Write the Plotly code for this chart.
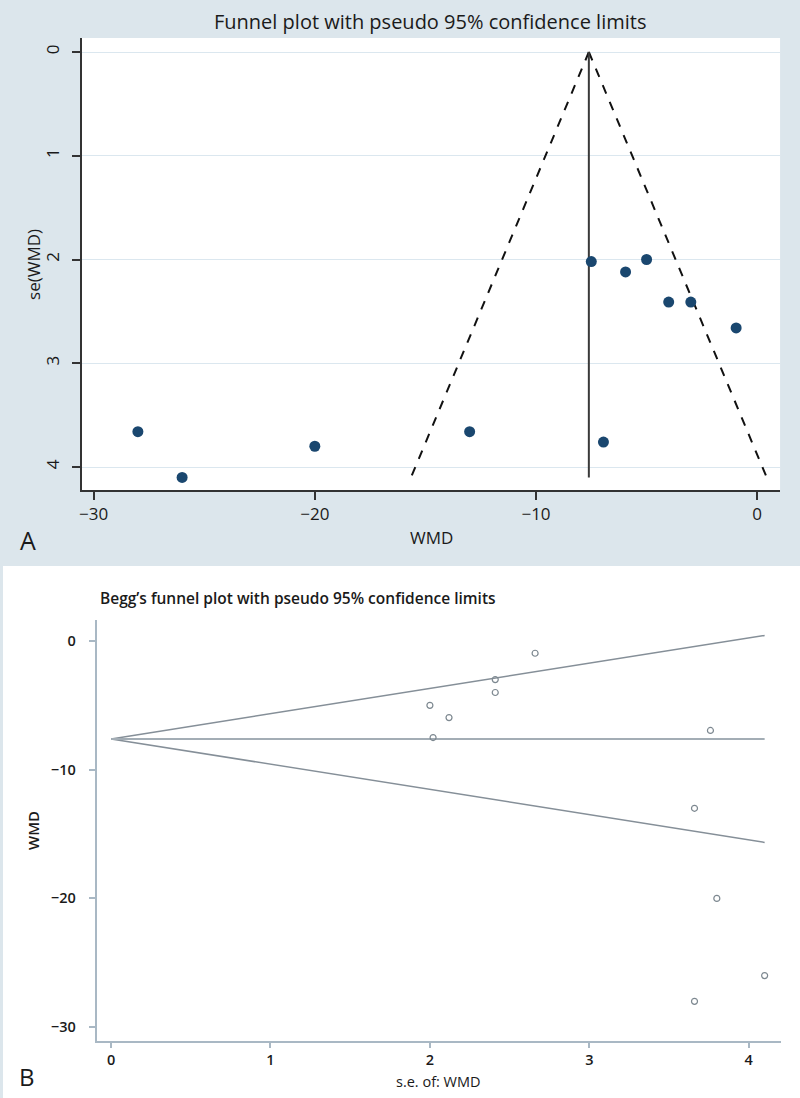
import plotly.graph_objects as go

# ---- data ----
wmd = [-28, -26, -20, -13, -6.95, -7.5, -5.95, -5.0, -4.0, -3.0, -0.95]
se = [3.66, 4.1, 3.8, 3.66, 3.76, 2.02, 2.12, 2.0, 2.41, 2.41, 2.66]

pooled_wmd = -7.61
funnel_se = [0, 4.1]
funnel_lower = [-7.61, -15.65]
funnel_upper = [-7.61, 0.43]

a_xticks = [-30, -20, -10, 0]
a_yticks = [0, 1, 2, 3, 4]
b_xticks = [0, 1, 2, 3, 4]
b_yticks = [0, -10, -20, -30]

W, H = 800, 1098
FONT = "Open Sans"
NAVY = "#1a476f"
BG_A = "#dce6ec"
TXT = "#1a1a1a"


def px_x(p):
    return p / W


def px_y(p):
    return 1 - p / H


fig = go.Figure()

# ---------- Panel A ----------
for xs in (funnel_lower, funnel_upper):
    fig.add_trace(go.Scatter(
        x=xs, y=funnel_se, mode="lines",
        line=dict(color="#111111", width=2, dash="dash"), xaxis="x", yaxis="y",
        showlegend=False, hoverinfo="skip"))
fig.add_trace(go.Scatter(
    x=[pooled_wmd, pooled_wmd], y=funnel_se, mode="lines",
    line=dict(color="#3a3a3a", width=2), xaxis="x", yaxis="y",
    showlegend=False, hoverinfo="skip"))
fig.add_trace(go.Scatter(
    x=wmd, y=se, mode="markers",
    marker=dict(color=NAVY, size=11, line=dict(width=0)),
    xaxis="x", yaxis="y", showlegend=False))

# ---------- Panel B ----------
for ys in (funnel_upper, funnel_lower):
    fig.add_trace(go.Scatter(
        x=funnel_se, y=ys, mode="lines",
        line=dict(color="#858f98", width=1.5), xaxis="x2", yaxis="y2",
        showlegend=False, hoverinfo="skip"))
fig.add_trace(go.Scatter(
    x=funnel_se, y=[pooled_wmd, pooled_wmd], mode="lines",
    line=dict(color="#a3adb5", width=2), xaxis="x2", yaxis="y2",
    showlegend=False, hoverinfo="skip"))
fig.add_trace(go.Scatter(
    x=se, y=wmd, mode="markers",
    marker=dict(symbol="circle-open", color="#7d8890", size=6,
                line=dict(width=1.2)),
    xaxis="x2", yaxis="y2", showlegend=False))

tickfontA = dict(family=FONT, size=17, color=TXT)
tickfontB = dict(family=FONT, size=14.5, color=TXT, weight=600)

fig.update_layout(
    width=W, height=H,
    margin=dict(l=0, r=0, t=0, b=0),
    paper_bgcolor=BG_A,
    plot_bgcolor="white",
    showlegend=False,
    xaxis=dict(
        domain=[px_x(79), px_x(780)],
        range=[(79 - 757) / 22.2, (780 - 757) / 22.2],
        tickvals=a_xticks, ticks="outside", ticklen=8, tickwidth=2,
        tickcolor="#333333", showline=True, linecolor="#333333",
        linewidth=2, showgrid=False, zeroline=False,
        tickfont=tickfontA, anchor="y"),
    yaxis=dict(
        domain=[px_y(490), px_y(38)],
        range=[(490 - 52) / 103.75, (38 - 52) / 103.75],
        tickvals=a_yticks, ticks="outside", ticklen=8, tickwidth=2,
        tickcolor="#333333", showline=True, linecolor="#333333",
        linewidth=2, showgrid=True, gridcolor="#dbe7ef", gridwidth=1,
        zeroline=False, tickangle=-90, tickfont=tickfontA, anchor="x",
        ticklabelstandoff=6),
    xaxis2=dict(
        domain=[px_x(94), px_x(781)],
        range=[(94 - 108.5) / 160, (781 - 108.5) / 160],
        tickvals=b_xticks, ticks="outside", ticklen=5, tickwidth=1.5,
        tickcolor="#a9b8c4", showline=True, linecolor="#a9b8c4",
        linewidth=2, showgrid=False, zeroline=False,
        tickfont=tickfontB, anchor="y2"),
    yaxis2=dict(
        domain=[px_y(1041), px_y(620)],
        range=[(641 - 1041) / 12.87, (641 - 620) / 12.87],
        tickvals=b_yticks, ticks="outside", ticklen=6, tickwidth=1.5,
        tickcolor="#a9b8c4", showline=True, linecolor="#a9b8c4",
        linewidth=2, showgrid=False, zeroline=False,
        tickfont=tickfontB, anchor="x2", ticklabelstandoff=10),
    shapes=[dict(type="rect", xref="paper", yref="paper",
                 x0=0, x1=1, y0=0, y1=px_y(566),
                 fillcolor="white", line=dict(width=0), layer="below")],
)

ann = [
    dict(text="Funnel plot with pseudo 95% confidence limits",
         x=px_x(429), y=px_y(22), font=dict(family=FONT, size=20, color=TXT)),
    dict(text="se(WMD)", x=px_x(30), y=px_y(264), textangle=-90,
         font=dict(family=FONT, size=17, color=TXT)),
    dict(text="WMD", x=px_x(430), y=px_y(537),
         font=dict(family=FONT, size=17, color=TXT)),
    dict(text="A", x=px_x(25), y=px_y(540),
         font=dict(family=FONT, size=25, color=TXT)),
    dict(text="Begg\u2019s funnel plot with pseudo 95% confidence limits",
         x=px_x(95), y=px_y(598), xanchor="left",
         font=dict(family=FONT, size=15.5, color=TXT, weight=600)),
    dict(text="WMD", x=px_x(30), y=px_y(830), textangle=-90,
         font=dict(family=FONT, size=15, color=TXT, weight=600)),
    dict(text="s.e. of: WMD", x=px_x(437), y=px_y(1081),
         font=dict(family=FONT, size=14.5, color=TXT)),
    dict(text="B", x=px_x(24), y=px_y(1076),
         font=dict(family=FONT, size=24, color=TXT)),
]
for a in ann:
    a.setdefault("xanchor", "center")
    a.update(xref="paper", yref="paper", yanchor="middle", showarrow=False)
    fig.add_annotation(**a)

fig.write_html(
    "out.html",
    config={"displayModeBar": False},
    post_script="document.body.style.margin='0';document.body.style.padding='0';",
)
